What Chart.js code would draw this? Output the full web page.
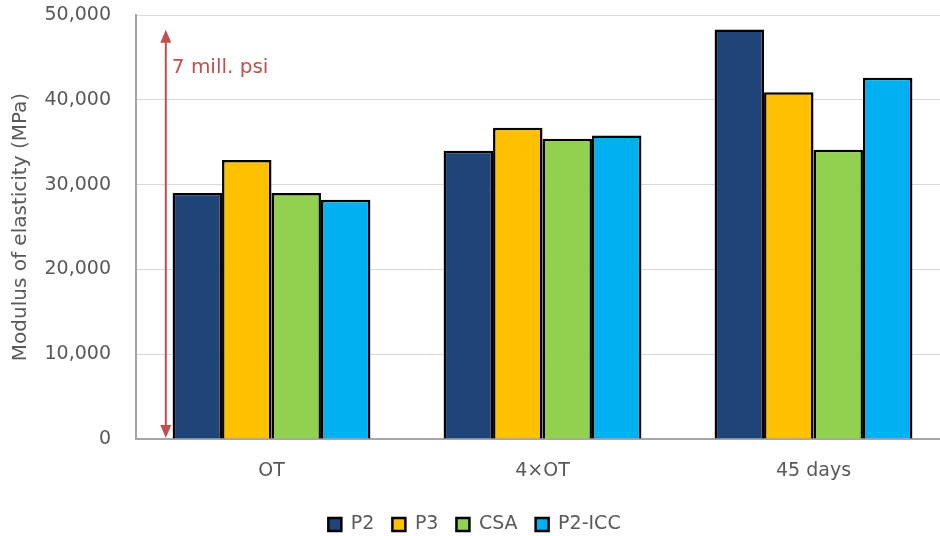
<!DOCTYPE html>
<html><head><meta charset="utf-8">
<script src="https://cdn.jsdelivr.net/npm/chart.js@4"></script>
<style>
html,body{margin:0;padding:0;overflow:hidden;background:#fff;width:940px;height:536px}
#wrap{position:absolute;left:0;top:0;width:950px;height:536px}
</style>
</head><body><div id="wrap"><canvas id="c" width="950" height="536"></canvas></div>
<script>
// ---- data ----
const categories = ['OT', '4×OT', '45 days'];
const seriesNames = ['P2', 'P3', 'CSA', 'P2-ICC'];
const p2Values = [29000, 34000, 48300];
const p3Values = [32900, 36700, 40900];
const csaValues = [29000, 35400, 34100];
const p2iccValues = [28200, 35800, 42600];
const yTickValues = [0, 10000, 20000, 30000, 40000, 50000];
const arrowValue = 48263;          // 7 million psi expressed in MPa
const arrowLabel = '7 mill. psi';
const yTitle = 'Modulus of elasticity (MPa)';

// ---- styles ----
const colors = ['#1F4477', '#FFC000', '#92D050', '#00B0F0'];
const FONT = 'DejaVu Sans';
const GREY = '#595959';
const RED = '#C0504D';

const seriesValues = [p2Values, p3Values, csaValues, p2iccValues];

const arrowPlugin = {
  id: 'arrowPlugin',
  afterDraw(chart) {
    const {ctx, scales: {x, y}} = chart;
    const ax = x.getPixelForValue(-0.39);
    const yTop = y.getPixelForValue(arrowValue);
    const yBot = y.getPixelForValue(0);
    const hw = 5.5, hh = 13;
    ctx.save();
    ctx.strokeStyle = RED; ctx.fillStyle = RED; ctx.lineWidth = 2;
    ctx.beginPath(); ctx.moveTo(ax, yTop + hh - 1); ctx.lineTo(ax, yBot - hh + 1); ctx.stroke();
    ctx.beginPath(); ctx.moveTo(ax, yTop); ctx.lineTo(ax - hw, yTop + hh); ctx.lineTo(ax + hw, yTop + hh); ctx.closePath(); ctx.fill();
    ctx.beginPath(); ctx.moveTo(ax, yBot - 1); ctx.lineTo(ax - hw, yBot - hh - 1); ctx.lineTo(ax + hw, yBot - hh - 1); ctx.closePath(); ctx.fill();
    ctx.font = '20px "' + FONT + '"';
    ctx.textAlign = 'left'; ctx.textBaseline = 'middle';
    ctx.fillText(arrowLabel, ax + 6, y.getPixelForValue(43750));
    ctx.restore();
  }
};

new Chart(document.getElementById('c'), {
  type: 'bar',
  data: {
    labels: categories,
    datasets: seriesNames.map((n, i) => ({
      label: n,
      data: seriesValues[i],
      backgroundColor: colors[i],
      borderColor: '#000',
      borderWidth: 2.5,
      borderSkipped: 'bottom',
      categoryPercentage: 0.73,
      barPercentage: 1.0
    }))
  },
  options: {
    responsive: false,
    animation: false,
    layout: {padding: {top: 15, left: 0, right: 1, bottom: -8}},
    plugins: {
      legend: {
        position: 'bottom',
        labels: {
          font: {family: FONT, size: 19},
          color: GREY,
          boxWidth: 13, boxHeight: 13,
          padding: 18,
          generateLabels(chart) {
            return chart.data.datasets.map((d, i) => ({
              text: d.label, fillStyle: d.backgroundColor, strokeStyle: '#000',
              lineWidth: 2.5, fontColor: GREY, datasetIndex: i, hidden: false
            }));
          }
        }
      },
      tooltip: {enabled: false}
    },
    scales: {
      x: {
        grid: {display: false, drawTicks: false},
        border: {display: true, color: '#A6A6A6', width: 2},
        ticks: {font: {family: FONT, size: 19}, color: GREY, padding: 21},
        afterFit(s) { s.height = 58; }
      },
      y: {
        min: 0, max: 50000,
        afterBuildTicks(s) { s.ticks = yTickValues.map(v => ({value: v})); },
        grid: {color: '#D9D9D9', lineWidth: 1, drawTicks: false},
        border: {display: true, color: '#A6A6A6', width: 2},
        ticks: {
          font: {family: FONT, size: 19}, color: GREY, padding: 25,
          callback: v => v.toLocaleString('en-US')
        },
        title: {display: true, text: yTitle, color: GREY, font: {family: FONT, size: 20}, padding: {top: 9, bottom: 0}},
        afterFit(s) { s.width = 136; s.paddingTop = 0; s.paddingBottom = 0; }
      }
    }
  },
  plugins: [arrowPlugin]
});
</script>
</body></html>
